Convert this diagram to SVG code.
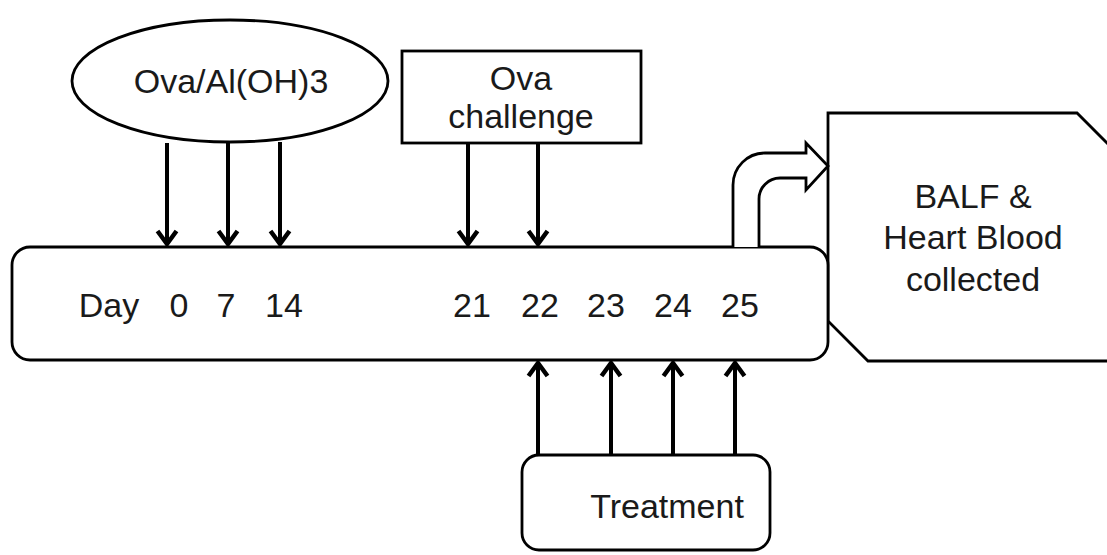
<svg xmlns="http://www.w3.org/2000/svg" width="1107" height="555" viewBox="0 0 1107 555">
<style>
.shape{fill:#fff;stroke:#000;stroke-width:2.8}
.lbl{font-family:"Liberation Sans",Arial,sans-serif;font-size:34px;fill:#1a1a1a;text-anchor:middle}
.arr{stroke:#000;stroke-width:4;fill:none;marker-end:url(#ah)}
</style>
<defs>
<marker id="ah" markerUnits="userSpaceOnUse" viewBox="-16 -12 20 24" markerWidth="20" markerHeight="24" refX="0" refY="0" orient="auto" overflow="visible">
<path d="M-14,-9.5 L-1,0 L-14,9.5" fill="none" stroke="#000" stroke-width="4.5"/>
</marker>
</defs>
<rect width="1107" height="555" fill="#fff"/>
<g id="collected">
<polygon class="shape" points="828,113 1077,113 1117,153 1117,361 868,361 828,321"/>
<text class="lbl" x="973" y="208">BALF &amp;</text>
<text class="lbl" x="973" y="249">Heart Blood</text>
<text class="lbl" x="973" y="291">collected</text>
</g>
<g id="timeline">
<rect class="shape" x="12" y="247" width="816" height="113" rx="18"/>
<text class="lbl" x="109" y="317">Day</text>
<text class="lbl" x="179" y="317">0</text>
<text class="lbl" x="226" y="317">7</text>
<text class="lbl" x="284" y="317">14</text>
<text class="lbl" x="472" y="317">21</text>
<text class="lbl" x="540" y="317">22</text>
<text class="lbl" x="606" y="317">23</text>
<text class="lbl" x="673" y="317">24</text>
<text class="lbl" x="740" y="317">25</text>
</g>
<g id="sensitization">
<ellipse class="shape" cx="230" cy="81" rx="158" ry="61"/>
<text class="lbl" x="231" y="93">Ova/Al(OH)3</text>
</g>
<g id="challenge">
<rect class="shape" x="402" y="51" width="239" height="92"/>
<text class="lbl" x="521" y="90">Ova</text>
<text class="lbl" x="521" y="128">challenge</text>
</g>
<g id="treatment">
<rect class="shape" x="522" y="455" width="248" height="95" rx="17"/>
<text class="lbl" x="667" y="518">Treatment</text>
</g>
<g id="connectors">
<line class="arr" x1="167" y1="143" x2="167" y2="245"/>
<line class="arr" x1="228" y1="143" x2="228" y2="245"/>
<line class="arr" x1="280" y1="142" x2="280" y2="245"/>
<line class="arr" x1="468" y1="143" x2="468" y2="245"/>
<line class="arr" x1="538" y1="143" x2="538" y2="245"/>
<line class="arr" x1="538" y1="455" x2="538" y2="362"/>
<line class="arr" x1="611" y1="455" x2="611" y2="362"/>
<line class="arr" x1="673" y1="455" x2="673" y2="362"/>
<line class="arr" x1="735" y1="455" x2="735" y2="362"/>
<path class="shape" stroke-linejoin="miter" d="M733,247 L733,185 A32,32 0 0 1 765,153 L806,153 L806,143 L828,166 L806,190 L806,178 L780,178 A21,21 0 0 0 759,199 L759,247"/>
</g>
</svg>
